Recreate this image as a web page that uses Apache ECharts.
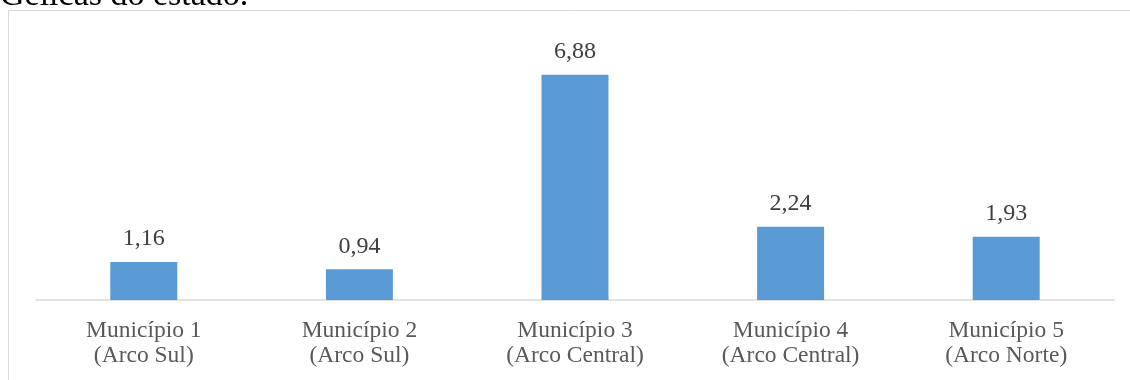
<!DOCTYPE html>
<html>
<head>
<meta charset="utf-8">
<style>
  html, body { margin: 0; padding: 0; background: #fff; }
  #chart { width: 1130px; height: 380px; }
</style>
<script src="https://cdn.jsdelivr.net/npm/echarts@6/dist/echarts.min.js"></script>
</head>
<body>
<div id="chart"></div>
<script>
// municipality labels and values
const categories = [
  'Município 1\n(Arco Sul)',
  'Município 2\n(Arco Sul)',
  'Município 3\n(Arco Central)',
  'Município 4\n(Arco Central)',
  'Município 5\n(Arco Norte)'
]
const values = [1.16, 0.94, 6.88, 2.24, 1.93]
const captionText = 'Gélicas do estado.'

const serif = '"Liberation Serif", "Times New Roman", serif'

const chart = echarts.init(document.getElementById('chart'))

chart.setOption({
  animation: false,
  backgroundColor: '#fff',
  graphic: [
    {
      // caption cut off by the top edge
      type: 'text',
      left: 0,
      top: -21,
      style: { text: captionText, font: '34px ' + serif, fill: '#000' }
    },
    {
      // chart area border (runs past right and bottom edges)
      type: 'rect',
      shape: { x: 8.5, y: 10.5, width: 1200, height: 400 },
      style: { fill: 'none', stroke: '#d9d9d9', lineWidth: 1 },
      silent: true
    }
  ],
  grid: { left: 36, right: 16, top: 38, bottom: 80, containLabel: false },
  xAxis: {
    type: 'category',
    data: categories,
    axisLine: { lineStyle: { color: '#d9d9d9', width: 1.5 } },
    axisTick: { show: false },
    axisLabel: {
      color: '#595959',
      fontFamily: serif,
      fontSize: 23.5,
      lineHeight: 25,
      margin: 18,
      interval: 0
    }
  },
  yAxis: {
    type: 'value',
    min: 0,
    max: 8,
    show: false,
    splitLine: { show: false }
  },
  series: [{
    type: 'bar',
    data: values,
    barWidth: 67,
    itemStyle: { color: '#5b9bd5' },
    label: {
      show: true,
      position: 'top',
      distance: 11,
      color: '#404040',
      fontFamily: serif,
      fontSize: 24,
      formatter: p => p.value.toFixed(2).replace('.', ',')
    }
  }]
})
</script>
</body>
</html>
